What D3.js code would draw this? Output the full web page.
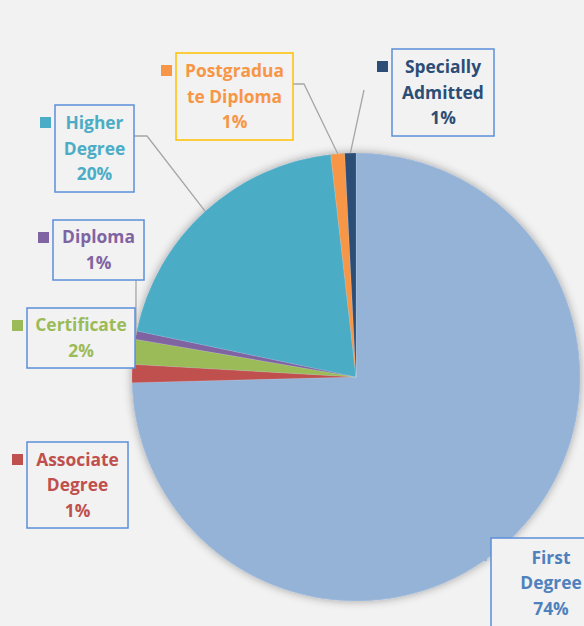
<!DOCTYPE html>
<html>
<head>
<meta charset="utf-8">
<script src="https://cdn.jsdelivr.net/npm/d3@7"></script>
<style>
  body { margin: 0; background: #f2f2f2; overflow: hidden; }
  svg { display: block; }
  text { font-family: "Open Sans", Lato, sans-serif; font-weight: bold; font-size: 17.4px; }
</style>
</head>
<body>
<svg></svg>
<script>
// pie data (clockwise from 12 o'clock)
var categories = ["First Degree", "Associate Degree", "Certificate", "Diploma", "Higher Degree", "Postgraduate Diploma", "Specially Admitted"];
var values = [74.6, 1.3, 1.8, 0.6, 19.9, 1.0, 0.8];
var percentLabels = ["74%", "1%", "2%", "1%", "20%", "1%", "1%"];
var labelLines = [["First", "Degree"], ["Associate", "Degree"], ["Certificate"], ["Diploma"], ["Higher", "Degree"], ["Postgradua", "te Diploma"], ["Specially", "Admitted"]];
var colors = ["#95b3d7", "#c0504d", "#9bbb59", "#8064a2", "#4bacc6", "#f79646", "#2c4d75"];
var textColors = ["#4f81bd", "#c0504d", "#9bbb59", "#8064a2", "#4bacc6", "#f79646", "#2c4d75"];

var svgWidth = 584, svgHeight = 626;
var cx = 356, cy = 377, radius = 224;

// label boxes: x, y, w, h, leader start (or null)
var boxes = [
  {x: 491, y: 538, w: 122, h: 90, lead: null},
  {x: 27, y: 442, w: 101, h: 86, lead: null},
  {x: 27, y: 308, w: 108, h: 60, lead: null},
  {x: 53, y: 220, w: 91, h: 60, lead: [[136, 280]]},
  {x: 55, y: 105, w: 79, h: 87, lead: [[134, 136], [147, 136]]},
  {x: 176, y: 53, w: 117, h: 87, lead: [[293, 84], [304, 84]]},
  {x: 392, y: 49, w: 102, h: 87, lead: [[364, 90]]}
];

var svg = d3.select("svg").attr("width", svgWidth).attr("height", svgHeight);

var defs = svg.append("defs");
var shadow = defs.append("filter").attr("id", "shadow")
  .attr("x", "-20%").attr("y", "-20%").attr("width", "140%").attr("height", "140%");
shadow.append("feGaussianBlur").attr("in", "SourceAlpha").attr("stdDeviation", 5);
shadow.append("feOffset").attr("dx", 0).attr("dy", 0).attr("result", "blur");
shadow.append("feComponentTransfer").append("feFuncA").attr("type", "linear").attr("slope", 0.35);
var merge = shadow.append("feMerge");
merge.append("feMergeNode");
merge.append("feMergeNode").attr("in", "SourceGraphic");

var pie = d3.pie().sort(null).value(function (d) { return d; });
var arcs = pie(values);
var arc = d3.arc().innerRadius(0).outerRadius(radius);

var g = svg.append("g").attr("transform", "translate(" + cx + "," + cy + ")");
g.append("circle").attr("r", radius).attr("fill", "#95b3d7").attr("filter", "url(#shadow)");
g.selectAll("path")
  .data(arcs)
  .enter()
  .append("path")
  .attr("d", arc)
  .attr("fill", function (d, i) { return colors[i]; })
  .attr("stroke", "rgba(255,255,255,0.25)")
  .attr("stroke-width", 0.5);

// leader lines to the arc edge at mid angle
arcs.forEach(function (d, i) {
  var b = boxes[i];
  if (!b.lead) return;
  var mid = (d.startAngle + d.endAngle) / 2;
  var end = [cx + radius * Math.sin(mid), cy - radius * Math.cos(mid)];
  var pts = b.lead.concat([end]);
  svg.append("path")
    .attr("d", d3.line()(pts))
    .attr("fill", "none")
    .attr("stroke", "#a6a6a6")
    .attr("stroke-width", 1.3);
});

var labels = svg.selectAll("g.label")
  .data(arcs)
  .enter()
  .append("g")
  .attr("class", "label");

labels.append("rect")
  .attr("x", function (d, i) { return boxes[i].x; })
  .attr("y", function (d, i) { return boxes[i].y; })
  .attr("width", function (d, i) { return boxes[i].w; })
  .attr("height", function (d, i) { return boxes[i].h; })
  .attr("fill", "#f2f2f2")
  .attr("stroke", function (d, i) { return i === 5 ? "#ffc000" : "#5b8fd9"; })
  .attr("stroke-width", 1.5);

labels.append("rect")
  .attr("x", function (d, i) { return boxes[i].x - 15; })
  .attr("y", function (d, i) { return boxes[i].y + 12; })
  .attr("width", 11)
  .attr("height", 11)
  .attr("fill", function (d, i) { return colors[i]; });

labels.each(function (d, i) {
  var b = boxes[i];
  var lines = labelLines[i].concat([percentLabels[i]]);
  var top = b.y + b.h / 2 - (lines.length - 1) * 25.5 / 2 + 6;
  var t = d3.select(this).append("text")
    .attr("text-anchor", "middle")
    .attr("fill", textColors[i]);
  lines.forEach(function (s, k) {
    t.append("tspan")
      .attr("x", b.x + b.w / 2 + (i === 0 ? -1 : 0))
      .attr("y", top + k * 25.5)
      .text(s);
  });
});
</script>
</body>
</html>
